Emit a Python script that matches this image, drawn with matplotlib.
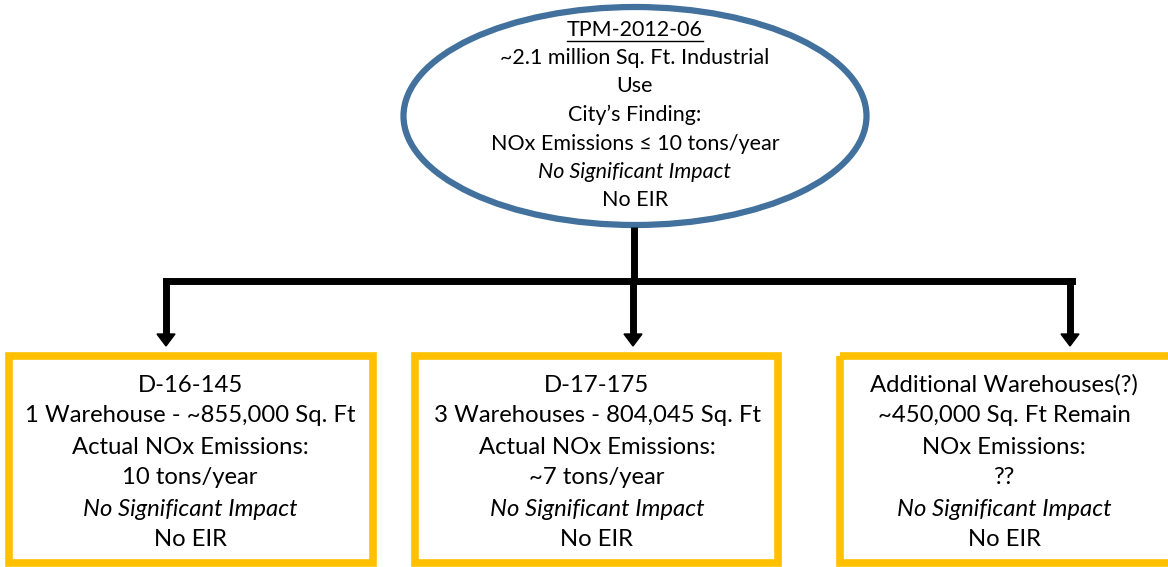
import matplotlib
matplotlib.use("Agg")
import matplotlib.pyplot as plt
from matplotlib.patches import Ellipse, Rectangle, Polygon

plt.rcParams['font.family'] = ['Lato', 'DejaVu Sans']

# text content
top_title = "TPM-2012-06"
top_lines = ["~2.1 million Sq. Ft. Industrial", "Use", "City\u2019s Finding:",
             "NOx Emissions \u2264 10 tons/year", "No Significant Impact", "No EIR"]
box_lines = [
    ["D-16-145", "1 Warehouse - ~855,000 Sq. Ft", "Actual NOx Emissions:",
     "10 tons/year", "No Significant Impact", "No EIR"],
    ["D-17-175", "3 Warehouses - 804,045 Sq. Ft", "Actual NOx Emissions:",
     "~7 tons/year", "No Significant Impact", "No EIR"],
    ["Additional Warehouses(?)", "~450,000 Sq. Ft Remain", "NOx Emissions:",
     "??", "No Significant Impact", "No EIR"],
]
italic_line = "No Significant Impact"

# layout (pixels, y down)
W, H = 1168, 567
ell_cx, ell_cy, ell_w, ell_h = 635, 116, 463, 218
ell_color = "#41719C"
box_color = "#FFC000"
boxes = [(9, 356, 364, 207), (415, 356, 363, 207), (840, 356, 340, 207)]
box_text_x = [190, 597, 1004]
arrow_x = [166, 633, 1070]
bus_y = 281
arrow_tip = 346

fig = plt.figure(figsize=(W / 100, H / 100), dpi=100)
ax = fig.add_axes([0, 0, 1, 1])
ax.set_xlim(0, W)
ax.set_ylim(H, 0)
ax.axis("off")

ax.add_patch(Ellipse((ell_cx, ell_cy), ell_w, ell_h, fill=False,
                     edgecolor=ell_color, linewidth=4.5))

# connectors
lw = 5
ax.plot([ell_cx - 1, ell_cx - 1], [ell_cy + ell_h / 2 + 2, bus_y], color="black", lw=lw,
        solid_capstyle="butt")
ax.plot([arrow_x[0], arrow_x[-1] + 2], [bus_y, bus_y], color="black", lw=lw,
        solid_capstyle="projecting", solid_joinstyle="miter")
for x in arrow_x:
    ax.plot([x, x], [bus_y, arrow_tip - 10], color="black", lw=lw,
            solid_capstyle="projecting")
    ax.add_patch(Polygon([[x - 9, arrow_tip - 12], [x + 9, arrow_tip - 12], [x, arrow_tip]],
                         closed=True, color="black"))

for (x0, y0, w, h) in boxes:
    ax.add_patch(Rectangle((x0, y0), w, h, fill=False, edgecolor=box_color, linewidth=5.5))

# ellipse text
fs_top = 15.5
t = ax.text(ell_cx, 30, top_title, ha="center", va="center", fontsize=fs_top)
for i, line in enumerate(top_lines):
    style = "italic" if line == italic_line else "normal"
    ax.text(ell_cx, 58 + i * 28.5, line, ha="center", va="center", fontsize=fs_top,
            fontstyle=style)

fig.canvas.draw()
bb = t.get_window_extent().transformed(ax.transData.inverted())
ax.plot([bb.x0, bb.x1], [41, 41], color="black", lw=1)

# box text
fs_box = 17.2
for cx, lines in zip(box_text_x, box_lines):
    for i, line in enumerate(lines):
        style = "italic" if line == italic_line else "normal"
        ax.text(cx, 385 + i * 31, line, ha="center", va="center", fontsize=fs_box,
                fontstyle=style)

fig.savefig("out.png", dpi=100)
